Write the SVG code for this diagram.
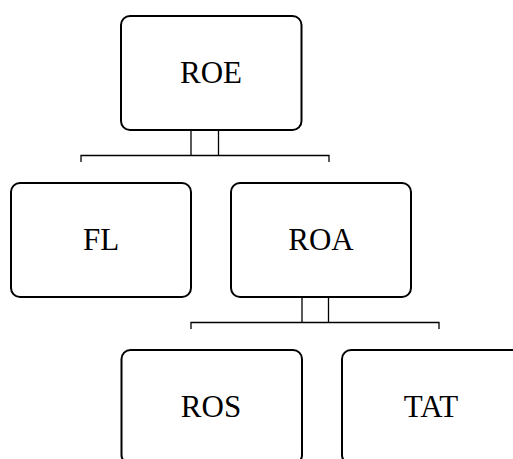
<svg xmlns="http://www.w3.org/2000/svg" width="513" height="459" viewBox="0 0 513 459">
<style>
.box{fill:#fff;stroke:#000;stroke-width:2}
.lbl{font-family:"Liberation Serif","Times New Roman",serif;font-size:31px;fill:#000;text-anchor:middle}
.con{fill:none;stroke:#000;stroke-width:1.3}
</style>
<rect width="513" height="459" fill="#fff"/>
<g id="connectors">
<path class="con" d="M191,130V155.5M218.5,130V155.5M81,162V155.5H329V162"/>
<path class="con" d="M302,297V322.5M328.5,297V322.5M191,329V322.5H439V329"/>
</g>
<g id="ROE"><rect class="box" x="121" y="16" width="180.5" height="114" rx="9"/><text class="lbl" x="211" y="82.5">ROE</text></g>
<g id="FL"><rect class="box" x="11" y="183" width="180" height="114" rx="9"/><text class="lbl" x="101" y="250">FL</text></g>
<g id="ROA"><rect class="box" x="231" y="183" width="180" height="114" rx="9"/><text class="lbl" x="321" y="250">ROA</text></g>
<g id="ROS"><rect class="box" x="121.5" y="350" width="180.5" height="114" rx="9"/><text class="lbl" x="211" y="417">ROS</text></g>
<g id="TAT"><rect class="box" x="342" y="350" width="180" height="114" rx="9"/><text class="lbl" x="431" y="417">TAT</text></g>
</svg>
